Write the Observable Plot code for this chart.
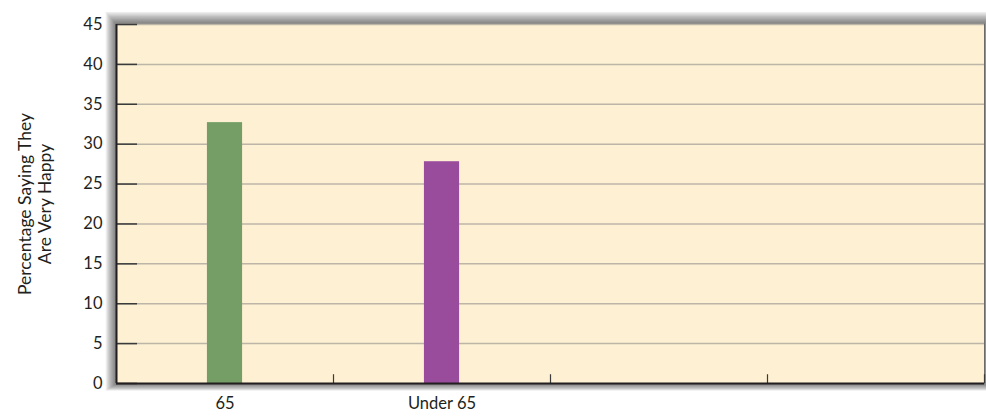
<!DOCTYPE html>
<html>
<head>
<meta charset="utf-8">
<script src="https://cdn.jsdelivr.net/npm/d3@7"></script>
<script src="https://cdn.jsdelivr.net/npm/@observablehq/plot@0.6"></script>
<style>
  html, body { margin: 0; padding: 0; background: #ffffff; }
</style>
</head>
<body>
<div id="chart"></div>
<script>
const categories = ["65", "Under 65", "", ""];
const values = [32.7, 27.8];
const barColors = ["#749e65", "#9a4c9c"];
const yTicks = [0, 5, 10, 15, 20, 25, 30, 35, 40, 45];
const yLabel = "Percentage Saying They\nAre Very Happy";

const bars = values.map((v, i) => ({i, value: v, color: barColors[i]}));
const slots = categories.map((c, i) => i);
const boundaries = d3.range(1, categories.length + 1);
const halfBar = 0.081;

// soft shadow around the plot frame, built from stacked translucent frames
const shadowLayers = d3.range(1, 10).map(k => Plot.frame({
  fill: "#000", fillOpacity: 0.07, stroke: null,
  insetTop: -k * 1.4, insetLeft: -k * 1.2, insetRight: -k * 0.55, insetBottom: -k * 0.8
}));

const chart = Plot.plot({
  width: 986,
  height: 417,
  marginLeft: 116,
  marginRight: 2,
  marginTop: 24,
  marginBottom: 34,
  style: {fontFamily: "Lato, sans-serif", fontSize: "16px", color: "#231f20", background: "#ffffff", overflow: "visible"},
  x: {domain: [0, categories.length], axis: null},
  y: {domain: [0, 45], axis: null},
  marks: [
    ...shadowLayers,
    Plot.frame({fill: "#fdf0d3", stroke: "#6b6b6b"}),
    Plot.gridY(yTicks.filter(t => t > 0), {stroke: "#bdb6a8", strokeOpacity: 1, strokeWidth: 1.5}),
    Plot.rectY(bars, {x1: d => d.i + 0.5 - halfBar, x2: d => d.i + 0.5 + halfBar, y1: 0, y2: "value", fill: "color"}),
    Plot.ruleY(yTicks, {x1: 0, x2: 0.097, stroke: "#3a3a3a", strokeWidth: 1.5}),
    Plot.ruleX(boundaries, {y1: 0, y2: 1.1, stroke: "#3a3a3a", strokeWidth: 1.2}),
    Plot.ruleX([0], {stroke: "#231f20", strokeWidth: 2}),
    Plot.ruleY([0], {stroke: "#231f20", strokeWidth: 2}),
    Plot.axisY(yTicks, {label: null, tickSize: 0, tickPadding: 14, fontSize: 16.5, fill: "#231f20"}),
    Plot.axisX(slots.map(i => i + 0.5), {label: null, tickSize: 0, tickPadding: 14, fontSize: 16.5, fill: "#231f20",
      tickFormat: (d) => categories[Math.floor(d)]}),
    Plot.text([yLabel], {text: d => d, frameAnchor: "left", rotate: -90, dx: -82, fontSize: 17.5,
      lineHeight: 1.17, textAnchor: "middle", fill: "#231f20"})
  ]
});

document.getElementById("chart").appendChild(chart);
</script>
</body>
</html>
